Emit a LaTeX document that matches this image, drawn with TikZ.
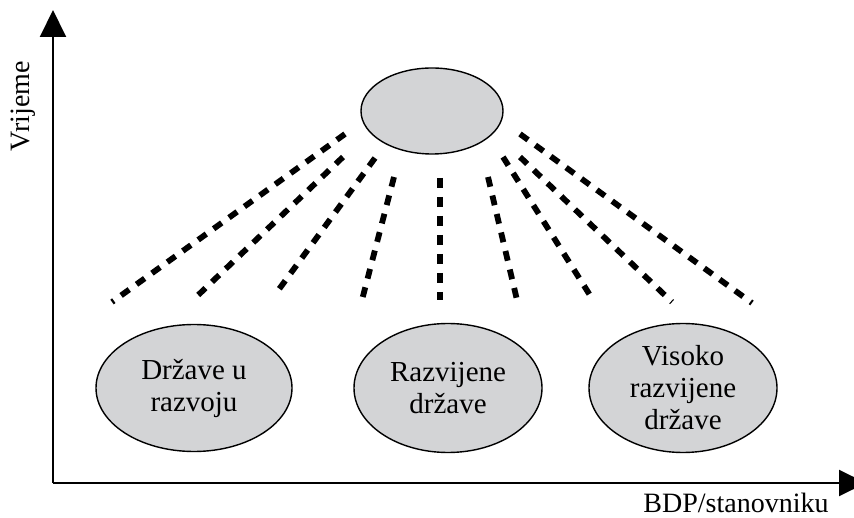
\documentclass[tikz,border=0pt]{standalone}
\usepackage{fontspec}
\setmainfont{Liberation Serif}
\usetikzlibrary{arrows.meta}
\usetikzlibrary{shapes.geometric}
\definecolor{ovalgray}{RGB}{211,212,214}
\tikzset{
  oval/.style={shape=ellipse,draw=black,line width=1.4pt,fill=ovalgray,inner sep=0pt,
    align=center,font=\fontsize{29}{32}\selectfont},
  axisline/.style={line width=2pt,-{Triangle[length=27pt,width=26pt]}},
  rayline/.style={line width=5.8pt,dash pattern=on 10pt off 9pt},
  axislabel/.style={font=\fontsize{28}{31}\selectfont,inner sep=0pt}
}
\begin{document}
\begin{tikzpicture}[x=1pt,y=-1pt]
    \useasboundingbox (0,0) rectangle (854,518);
    % axes
    \coordinate (O) at (53,483);
    \coordinate (Ytop) at (53,10);
    \coordinate (Xend) at (866,483);
    \draw[axisline] (O) -- (Ytop);
    \draw[axisline] (O) -- (Xend);
    \node[axislabel,rotate=90] (ylab) at (23,106) {Vrijeme};
    \node[axislabel] (xlab) at (736,503) {BDP/stanovniku};
    % ovals
    \node[oval,minimum width=142pt,minimum height=86pt] (top) at (432,111) {};
    \node[oval,minimum width=196pt,minimum height=127pt] (A) at (194,388) {Države u\\razvoju};
    \node[oval,minimum width=188pt,minimum height=129pt] (B) at (448,388) {Razvijene\\države};
    \node[oval,minimum width=188pt,minimum height=129pt] (C) at (683,388) {Visoko\\razvijene\\države};
    % dashed rays
    \foreach \i/\xa/\ya/\xb/\yb in {1/345/134/112/302, 2/343/157/193/300, 3/375/158/277/292,
        4/394/177/362/300, 5/440/178/440/300, 6/488/177/517/300,
        7/503/157/593/300, 8/520/157/672/302, 9/520/134/752/303} {
      \coordinate (s\i) at (\xa,\ya);
      \coordinate (e\i) at (\xb,\yb);
      \draw[rayline] (s\i) -- (e\i);
    }
\end{tikzpicture}
\end{document}
